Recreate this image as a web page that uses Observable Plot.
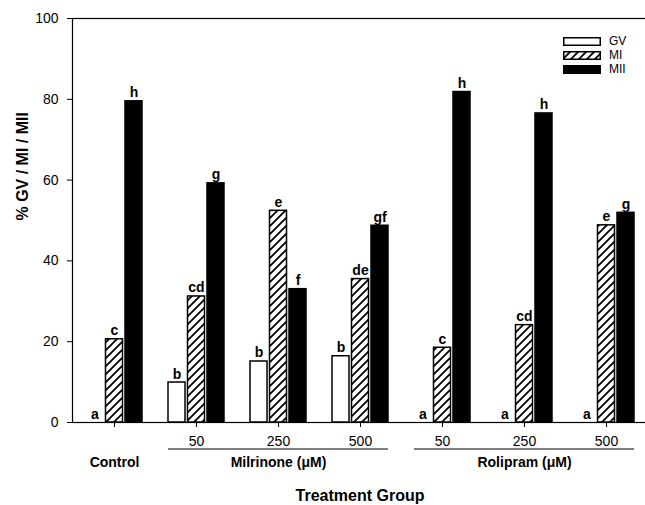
<!DOCTYPE html>
<html>
<head>
<meta charset="utf-8">
<script src="https://cdn.jsdelivr.net/npm/d3@7"></script>
<script src="https://cdn.jsdelivr.net/npm/@observablehq/plot@0.6"></script>
<style>
  body { margin: 0; background: #fff; }
  #wrap { position: relative; width: 645px; height: 505px; font-family: "Liberation Sans", Arial, sans-serif; }
  #legend { position: absolute; left: 563px; top: 34px; font-size: 12px; }
  #legend .row { display: flex; align-items: center; height: 14px; }
  #legend .row span { display: block; line-height: 14px; }
  #legend svg { margin-right: 8px; display: block; }
</style>
</head>
<body>
<svg width="0" height="0" style="position:absolute">
  <defs>
    <pattern id="hatch" patternUnits="userSpaceOnUse" width="8" height="8">
      <rect width="8" height="8" fill="white"></rect>
      <path d="M0,8 L8,0 M-2,2 L2,-2 M6,10 L10,6" stroke="black" stroke-width="1.8"></path>
    </pattern>
  </defs>
</svg>
<div id="wrap">
  <div id="chart"></div>
  <div id="legend"></div>
</div>
<script>
// ---- data ----
const groups = ["Control", "Milrinone 50", "Milrinone 250", "Milrinone 500", "Rolipram 50", "Rolipram 250", "Rolipram 500"];
const doseLabels = ["", "50", "250", "500", "50", "250", "500"];
const gv  = [0, 9.9, 15.1, 16.4, 0, 0, 0];
const mi  = [20.6, 31.2, 52.4, 35.5, 18.5, 24.1, 48.8];
const mii = [79.5, 59.2, 33.0, 48.7, 81.8, 76.5, 51.9];
const gvLetters  = ["a", "b", "b", "b", "a", "a", "a"];
const miLetters  = ["c", "cd", "e", "de", "c", "cd", "e"];
const miiLetters = ["h", "g", "f", "gf", "h", "h", "g"];
const seriesNames = ["GV", "MI", "MII"];
const treatmentNames = ["Control", "Milrinone (\u03bcM)", "Rolipram (\u03bcM)"];
const treatmentAt = ["Control", "Milrinone 250", "Rolipram 250"];
const underlineFrom = ["Milrinone 50", "Rolipram 50"];
const underlineTo = ["Milrinone 500", "Rolipram 500"];
const yTicks = [0, 20, 40, 60, 80, 100];

// ---- tables built from arrays ----
const rows = groups.map((g, i) => ({group: g, gv: gv[i], mi: mi[i], mii: mii[i],
  gvL: gvLetters[i], miL: miLetters[i], miiL: miiLetters[i]}));
const labelRows = treatmentNames.map((n, i) => ({name: n, at: treatmentAt[i]}));
const lineRows = underlineFrom.map((f, i) => ({from: f, to: underlineTo[i]}));
const doseOf = Object.fromEntries(groups.map((g, i) => [g, doseLabels[i]]));

const off = 19.5;   // series offset within a group (px)
const inset = 32.5; // makes bars ~17px wide
const font = "Liberation Sans, Arial, sans-serif";

const chart = Plot.plot({
  width: 645,
  height: 505,
  marginTop: 18,
  marginBottom: 83,
  marginLeft: 72,
  marginRight: -2,
  style: {fontFamily: font, fontSize: "14px", color: "black", background: "white"},
  x: {domain: groups, padding: 0, axis: null},
  y: {domain: [0, 100], axis: null},
  marks: [
    Plot.frame({stroke: "black", strokeWidth: 1.2}),
    // bars
    Plot.barY(rows, {x: "group", y: "gv", fill: "white", stroke: "black", strokeWidth: 1.5,
      insetLeft: inset, insetRight: inset, dx: -off}),
    Plot.barY(rows, {x: "group", y: "mi", fill: "url(#hatch)", stroke: "black", strokeWidth: 1.5,
      insetLeft: inset, insetRight: inset}),
    Plot.barY(rows, {x: "group", y: "mii", fill: "black", stroke: "black", strokeWidth: 1.5,
      insetLeft: inset, insetRight: inset, dx: off}),
    // significance letters
    Plot.text(rows, {x: "group", y: "gv", text: "gvL", dx: -off, dy: -4, lineAnchor: "bottom", fontWeight: "bold", fontSize: 14}),
    Plot.text(rows, {x: "group", y: "mi", text: "miL", dy: -4, lineAnchor: "bottom", fontWeight: "bold", fontSize: 14}),
    Plot.text(rows, {x: "group", y: "mii", text: "miiL", dx: off, dy: -4, lineAnchor: "bottom", fontWeight: "bold", fontSize: 14}),
    // axes
    Plot.ruleY([0], {stroke: "black", strokeWidth: 1.2}),
    Plot.axisY({ticks: yTicks, tickSize: 5, tickPadding: 9, fontSize: 14, label: null}),
    Plot.axisX({tickSize: 5, tickPadding: 9, fontSize: 14, label: null, tickFormat: d => doseOf[d]}),
    // treatment names
    Plot.text(labelRows, {x: "at", text: "name", frameAnchor: "bottom", dy: 44, fontWeight: "bold", fontSize: 14}),
    // axis titles
    Plot.text(["Treatment Group"], {frameAnchor: "bottom", dy: 78, fontWeight: "bold", fontSize: 16}),
    Plot.text(["% GV / MI / MII"], {frameAnchor: "left", rotate: -90, dx: -50, fontWeight: "bold", fontSize: 16})
  ]
});
document.getElementById("chart").appendChild(chart);

// ---- underlines under the dose groups, placed with the chart's own scales ----
const xs = chart.scale("x"), ys = chart.scale("y");
const barHalf = (xs.bandwidth - 2 * inset) / 2;
d3.select(chart).append("g")
  .selectAll("line")
  .data(lineRows)
  .join("line")
  .attr("x1", d => xs.apply(d.from) + xs.bandwidth / 2 - off - barHalf)
  .attr("x2", d => xs.apply(d.to) + xs.bandwidth / 2 + off + barHalf)
  .attr("y1", ys.apply(0) + 27)
  .attr("y2", ys.apply(0) + 27)
  .attr("stroke", "black")
  .attr("stroke-width", 1.2);

// ---- legend ----
const fills = {GV: "white", MI: "url(#hatch)", MII: "black"};
const legend = document.getElementById("legend");
seriesNames.forEach(name => {
  const row = document.createElement("div");
  row.className = "row";
  row.innerHTML = `<svg width="38" height="9"><rect x="0.75" y="0.75" width="36.5" height="7.5" fill="${fills[name]}" stroke="black" stroke-width="1.5"></rect></svg><span>${name}</span>`;
  legend.appendChild(row);
});
</script>
</body>
</html>
